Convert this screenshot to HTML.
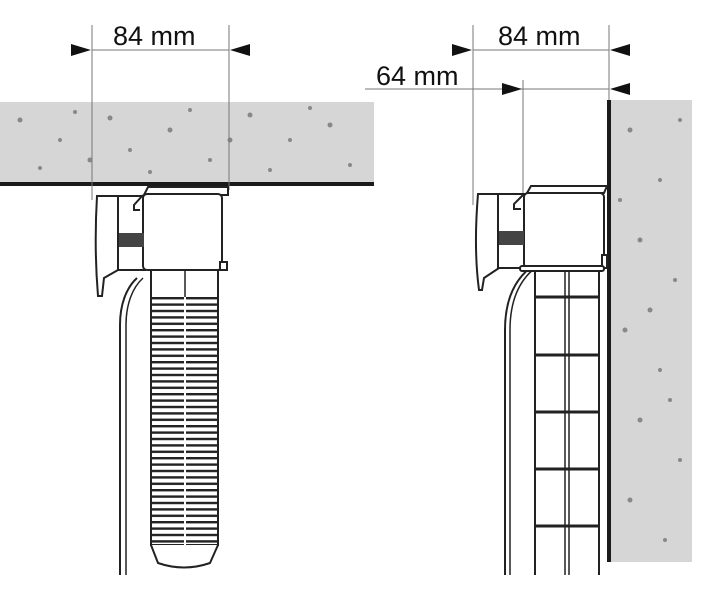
<!DOCTYPE html>
<html><head><style>
html,body{margin:0;padding:0;background:#fff;}
svg{display:block;}
text{font-family:"Liberation Sans",sans-serif;font-size:27px;fill:#111;}
</style></head><body>
<svg width="726" height="593" viewBox="0 0 726 593" xmlns="http://www.w3.org/2000/svg">
<defs>
<pattern id="ribs" x="0" y="297" width="70" height="6.4" patternUnits="userSpaceOnUse">
<rect x="0" y="0" width="70" height="2.4" fill="#222"/>
</pattern>
</defs>
<!-- ceiling -->
<rect x="0" y="102" width="374" height="82" fill="#d6d6d6"/>
<rect x="0" y="182" width="374" height="4" fill="#1a1a1a"/>
<g fill="#888">
<circle cx="20" cy="120" r="2.5"/><circle cx="60" cy="140" r="2"/><circle cx="110" cy="118" r="2.5"/><circle cx="130" cy="150" r="2"/><circle cx="170" cy="130" r="2.5"/><circle cx="210" cy="160" r="2"/><circle cx="250" cy="115" r="2.5"/><circle cx="290" cy="140" r="2"/><circle cx="330" cy="125" r="2.5"/><circle cx="350" cy="165" r="2"/><circle cx="40" cy="168" r="2"/><circle cx="90" cy="160" r="2.5"/><circle cx="270" cy="170" r="2"/><circle cx="310" cy="108" r="2"/><circle cx="190" cy="110" r="2"/><circle cx="150" cy="172" r="2"/><circle cx="230" cy="140" r="2.5"/><circle cx="75" cy="112" r="2"/>
</g>
<!-- wall -->
<rect x="609" y="100" width="83" height="462" fill="#d6d6d6"/>
<rect x="607" y="100" width="4" height="462" fill="#1a1a1a"/>
<g fill="#888">
<circle cx="630" cy="130" r="2.5"/><circle cx="660" cy="180" r="2"/><circle cx="640" cy="240" r="2.5"/><circle cx="675" cy="280" r="2"/><circle cx="625" cy="330" r="2.5"/><circle cx="660" cy="370" r="2"/><circle cx="640" cy="420" r="2.5"/><circle cx="680" cy="460" r="2"/><circle cx="630" cy="500" r="2.5"/><circle cx="665" cy="540" r="2"/><circle cx="680" cy="120" r="2"/><circle cx="650" cy="310" r="2.5"/><circle cx="620" cy="200" r="2"/><circle cx="670" cy="400" r="2"/>
</g>
<!-- dimensions -->
<g stroke="#777" stroke-width="1">
<line x1="92" y1="25" x2="92" y2="200"/><line x1="229" y1="25" x2="229" y2="190"/>
<line x1="92" y1="50" x2="229" y2="50"/>
<line x1="473" y1="25" x2="473" y2="205"/><line x1="609" y1="25" x2="609" y2="100"/>
<line x1="473" y1="50" x2="609" y2="50"/>
<line x1="365" y1="89" x2="609" y2="89"/>
<line x1="523" y1="80" x2="523" y2="195"/>
</g>
<g fill="#111">
<polygon points="71,44 91,50 71,56"/><polygon points="250,44 230,50 250,56"/>
<polygon points="452,44 472,50 452,56"/><polygon points="630,44 610,50 630,56"/>
<polygon points="502,83 522,89 502,95"/><polygon points="630,83 610,89 630,95"/>
</g>
<text x="113" y="45">84 mm</text>
<text x="498" y="45">84 mm</text>
<text x="376" y="85">64 mm</text>

<!-- left device -->
<g fill="none" stroke="#222" stroke-width="2">
<path d="M137,278 C126,288 120,305 120,325 L120,575"/>
<path d="M143,278 C132,288 126,305 126,325 L126,575" stroke-width="1.5"/>
<rect x="151" y="270" width="67" height="275" fill="#fff"/>
<line x1="185" y1="270" x2="185" y2="545" stroke-width="1.5"/>
</g>
<rect x="152" y="297" width="65" height="248" fill="url(#ribs)"/>
<line x1="185" y1="297" x2="185" y2="545" stroke="#fff" stroke-width="2"/>
<path d="M151,545 L158,563 Q184,572 210,563 L218,545" fill="#fff" stroke="#222" stroke-width="2"/>
<g stroke="#222" stroke-width="2" fill="#fff">
<path d="M144,195 L148,187 L228,187 L228,195 Z"/>
<path d="M97,196 L145,196 L145,270 L118,270 L104,278 L102,296 L98,296 C95,260 95,230 97,196 Z"/>
<rect x="118" y="196" width="27" height="74"/>
<rect x="143" y="194" width="79" height="76" rx="4"/>
<rect x="220" y="262" width="7" height="8"/>
</g>
<rect x="119" y="233" width="25" height="14" fill="#444"/>
<path d="M143,195 L134,205 L134,210 L140,210" fill="none" stroke="#222" stroke-width="2"/>

<!-- right device -->
<g fill="none" stroke="#222" stroke-width="2">
<path d="M530,268 C515,280 505,300 505,330 L505,575"/>
<path d="M535,268 C520,280 510,300 510,330 L510,575" stroke-width="1.5"/>
<line x1="535" y1="268" x2="535" y2="575"/>
<line x1="599" y1="268" x2="599" y2="575"/>
<line x1="565" y1="268" x2="565" y2="575" stroke-width="1.5"/>
<line x1="569" y1="268" x2="569" y2="575" stroke-width="1.5"/>
<g stroke-width="3">
<line x1="535" y1="297" x2="599" y2="297"/><line x1="535" y1="355" x2="599" y2="355"/>
<line x1="535" y1="412" x2="599" y2="412"/><line x1="535" y1="469" x2="599" y2="469"/>
<line x1="535" y1="526" x2="599" y2="526"/>
</g>
</g>
<g stroke="#222" stroke-width="2" fill="#fff">
<path d="M527,193 L531,186 L607,186 L604,193 Z"/>
<path d="M478,194 L525,194 L525,268 L499,268 L484,278 L482,290 L479,290 C475,260 475,230 478,194 Z"/>
<rect x="498" y="194" width="27" height="74"/>
<rect x="524" y="193" width="80" height="75" rx="4"/>
<rect x="602" y="255" width="5" height="13"/>
<rect x="520" y="266" width="84" height="5" rx="2"/>
</g>
<rect x="499" y="231" width="25" height="14" fill="#444"/>
<path d="M524,194 L514,204 L514,209 L521,209" fill="none" stroke="#222" stroke-width="2"/>
</svg>
</body></html>
